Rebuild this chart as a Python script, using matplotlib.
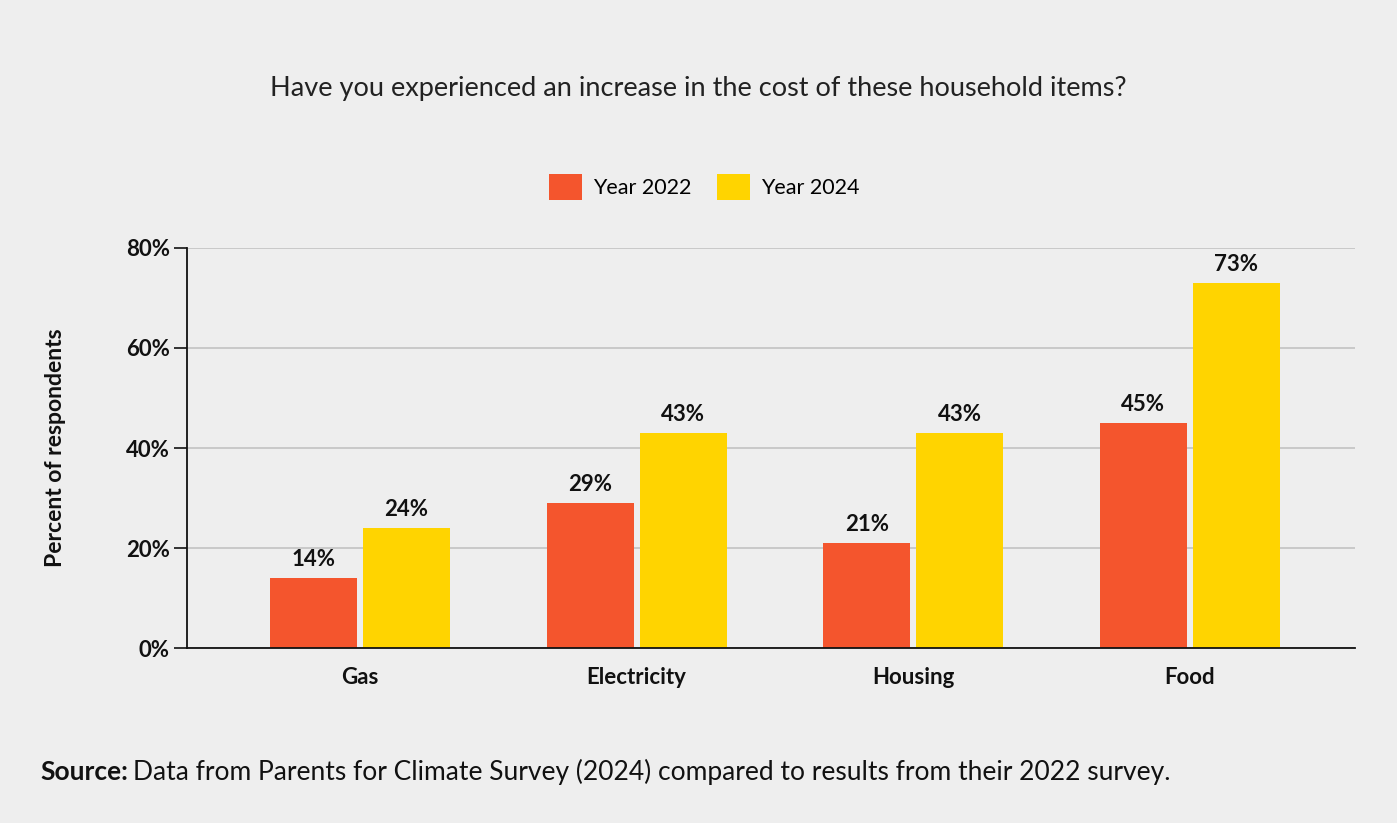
import numpy as np
import matplotlib
matplotlib.use('Agg')
import matplotlib.pyplot as plt
from matplotlib.patches import Patch

# Data
categories = ['Gas', 'Electricity', 'Housing', 'Food']
year_2022 = [14, 29, 21, 45]
year_2024 = [24, 43, 43, 73]
series_names = ['Year 2022', 'Year 2024']
y_ticks = [0, 20, 40, 60, 80]

col_2022 = '#F4552D'
col_2024 = '#FFD400'
bg = '#EEEEEE'

plt.rcParams['font.family'] = ['Lato', 'DejaVu Sans']

fig = plt.figure(figsize=(13.97, 8.23), dpi=100, facecolor=bg)
ax = fig.add_axes([0.1339, 0.2126, 0.8361, 0.4861])
ax.set_facecolor(bg)

x = np.arange(len(categories))
width = 0.315
offset = 0.168

bars1 = ax.bar(x - offset, year_2022, width, color=col_2022, zorder=3)
bars2 = ax.bar(x + offset, year_2024, width, color=col_2024, zorder=3)

# value labels
for bars, vals in [(bars1, year_2022), (bars2, year_2024)]:
    for b, v in zip(bars, vals):
        ax.annotate('{}%'.format(v), (b.get_x() + b.get_width() / 2, v),
                    xytext=(0, 6), textcoords='offset points',
                    ha='center', va='bottom', fontsize=16, fontweight='bold',
                    color='#111111')

ax.set_xlim(-0.626, 3.598)
ax.set_ylim(0, 80)
ax.set_yticks(y_ticks)
ax.set_yticklabels(['{}%'.format(t) for t in y_ticks], fontsize=16, fontweight='bold')
ax.set_xticks(x)
ax.set_xticklabels(categories, fontsize=16, fontweight='bold')

ax.tick_params(axis='y', length=9.5, width=1.2, pad=3, colors='#111111')
ax.tick_params(axis='x', length=0, pad=14, colors='#111111')

ax.grid(axis='y', color='#C8C8C8', linewidth=1.4, zorder=0)
for s in ['top', 'right']:
    ax.spines[s].set_visible(False)
for s in ['left', 'bottom']:
    ax.spines[s].set_color('#111111')
    ax.spines[s].set_linewidth(1.3)
    ax.spines[s].set_zorder(4)

ax.set_ylabel('Percent of respondents', fontsize=16.5, fontweight='bold', color='#111111')
ax.yaxis.set_label_coords(-0.104, 0.5)

# title
fig.text(0.5, 0.893, 'Have you experienced an increase in the cost of these household items?',
         ha='center', va='center', fontsize=19.5, color='#222222')

# legend
handles = [Patch(facecolor=col_2022), Patch(facecolor=col_2024)]
fig.legend(handles, series_names, loc='center', bbox_to_anchor=(0.504, 0.773), ncol=2,
           frameon=False, fontsize=15.5, handlelength=1.55, handleheight=1.5,
           handletextpad=0.5, columnspacing=1.2)

# source note
t1 = fig.text(0.0286, 0.062, 'Source:', ha='left', va='center', fontsize=19,
              fontweight='bold', color='#111111')
fig.canvas.draw()
bb = t1.get_window_extent(fig.canvas.get_renderer())
x_next = bb.x1 / fig.bbox.width + 0.004
fig.text(x_next, 0.062,
         'Data from Parents for Climate Survey (2024) compared to results from their 2022 survey.',
         ha='left', va='center', fontsize=19, color='#111111')

fig.savefig('out.png', dpi=100, facecolor=bg)
